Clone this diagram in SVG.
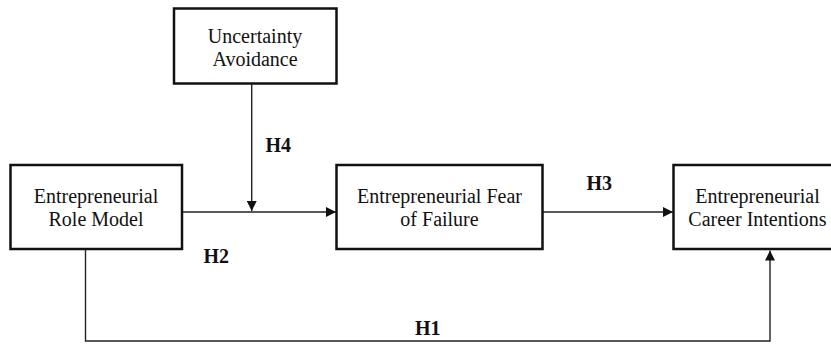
<svg xmlns="http://www.w3.org/2000/svg" width="831" height="344" viewBox="0 0 831 344">
<style>
.box{fill:#fff;stroke:#111;stroke-width:2.5}
.c{fill:none;stroke:#222;stroke-width:1.4}
</style>
<defs>
<marker id="ah" viewBox="0 0 10 10" refX="10" refY="5" markerWidth="10" markerHeight="10" markerUnits="userSpaceOnUse" orient="auto">
<path d="M0,0 L10,5 L0,10 Z" fill="#111"/>
</marker>
</defs>
<rect width="831" height="344" fill="#fff"/>
<g id="connectors">
<path class="c" d="M251.7,84 V211" marker-end="url(#ah)"/>
<path class="c" d="M182,212 H336" marker-end="url(#ah)"/>
<path class="c" d="M543,212 H673" marker-end="url(#ah)"/>
<path class="c" d="M85.5,250 V341 H770 V250.5" marker-end="url(#ah)"/>
</g>
<g font-family="Liberation Serif, Times New Roman, serif" font-size="20" fill="#111" text-anchor="middle">
<g id="uncertainty">
<rect class="box" x="174" y="8.5" width="162.5" height="75"/>
<text x="255" y="42.5">Uncertainty</text>
<text x="255" y="65.5">Avoidance</text>
</g>
<g id="rolemodel">
<rect class="box" x="10.5" y="165" width="171.5" height="84"/>
<text x="96" y="202.5">Entrepreneurial</text>
<text x="96" y="225.5">Role Model</text>
</g>
<g id="fear">
<rect class="box" x="336.5" y="165" width="206" height="84"/>
<text x="439.5" y="202.5">Entrepreneurial Fear</text>
<text x="439.5" y="225.5">of Failure</text>
</g>
<g id="career">
<rect class="box" x="673.5" y="165" width="170" height="84"/>
<text x="757.5" y="202.5">Entrepreneurial</text>
<text x="757.5" y="225.5">Career Intentions</text>
</g>
</g>
<g id="labels" font-family="Liberation Serif, Times New Roman, serif" font-size="20" font-weight="bold" fill="#111">
<text x="265.5" y="151.5">H4</text>
<text x="203.5" y="262.5">H2</text>
<text x="586.5" y="190">H3</text>
<text x="415" y="335">H1</text>
</g>
</svg>
